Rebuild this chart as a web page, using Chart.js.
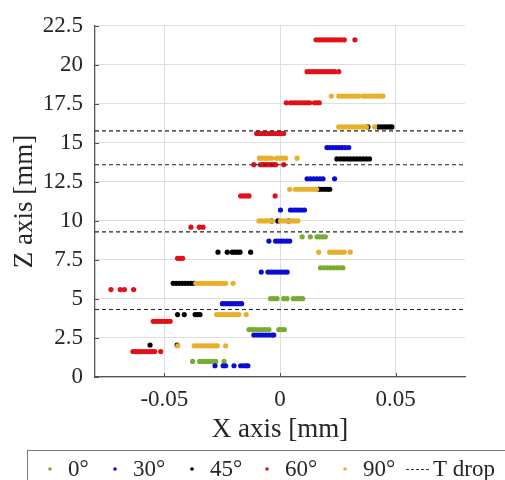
<!DOCTYPE html>
<html lang="en">
<head>
<meta charset="UTF-8">
<title>Z axis vs X axis</title>
<script src="https://cdn.jsdelivr.net/npm/chart.js@4.4.0/dist/chart.umd.min.js"></script>
<style>
  html, body { margin: 0; padding: 0; background: #fff; }
  #wrap { width: 505px; height: 480px; }
</style>
</head>
<body>
<div id="wrap"><canvas id="chart" width="505" height="480"></canvas></div>
<script>
// series names and colours
const angles = ['0°', '30°', '45°', '60°', '90°'];
const colors = ['#77ac30', '#0b0bd6', '#000000', '#e3101a', '#e8b02a'];

// each row: [z, x, x, ...]  (mm)
const deg0 = [
  [8.98, 0.0096, 0.0131, 0.0160, 0.0172, 0.0184, 0.0196],
  [7.0, 0.0175, 0.0189, 0.0203, 0.0217, 0.0231, 0.0245, 0.0259, 0.0272],
  [5.02, -0.0041, -0.0027, -0.0013, 0.0016, 0.0030, 0.0058, 0.0072, 0.0085, 0.0098],
  [3.04, -0.0134, -0.0120, -0.0106, -0.0092, -0.0078, -0.0063, -0.0048, -0.0005, 0.0006, 0.0019],
  [1.0, -0.0378, -0.0347, -0.0333, -0.0319, -0.0305, -0.0291, -0.0278, -0.0242]
];
const deg30 = [
  [14.7, 0.0203, 0.0216, 0.0229, 0.0242, 0.0255, 0.0268, 0.0282, 0.0297],
  [12.7, 0.0117, 0.0131, 0.0145, 0.0159, 0.0173, 0.0186, 0.0236],
  [10.7, 0.0002, 0.0045, 0.0057, 0.0069, 0.0081, 0.0093, 0.0106],
  [8.71, -0.0048, -0.0019, -0.0007, 0.0005, 0.0017, 0.0030, 0.0042],
  [6.72, -0.0081, -0.0052, -0.0040, -0.0028, -0.0016, -0.0004, 0.0008, 0.0020, 0.0031],
  [4.7, -0.0249, -0.0237, -0.0225, -0.0213, -0.0201, -0.0189, -0.0177, -0.0166],
  [2.69, -0.0113, -0.0100, -0.0087, -0.0074, -0.0061, -0.0048, -0.0035, -0.0027],
  [0.72, -0.0281, -0.0246, -0.0235, -0.0199, -0.0170, -0.0158, -0.0146, -0.0139]
];
const deg45 = [
  [16.02, 0.0380, 0.0426, 0.0438, 0.0450, 0.0462, 0.0474, 0.0484],
  [13.97, 0.0246, 0.0262, 0.0276, 0.0290, 0.0304, 0.0318, 0.0332, 0.0346, 0.0360, 0.0373, 0.0387],
  [12.03, 0.0167, 0.0180, 0.0193, 0.0205, 0.0215],
  [10.0, -0.0036, -0.0009, 0.0038],
  [8.0, -0.0268, -0.0228, -0.0206, -0.0195, -0.0184, -0.0173, -0.0127],
  [6.0, -0.0462, -0.0449, -0.0436, -0.0423, -0.0410, -0.0397, -0.0384, -0.0371],
  [4.0, -0.0443, -0.0414, -0.0367, -0.0356, -0.0346],
  [2.05, -0.0562, -0.0445]
];
const deg60 = [
  [21.6, 0.0156, 0.0168, 0.0180, 0.0192, 0.0204, 0.0216, 0.0228, 0.0240, 0.0252, 0.0264, 0.0278, 0.0324],
  [19.56, 0.0117, 0.0129, 0.0141, 0.0153, 0.0165, 0.0177, 0.0189, 0.0201, 0.0213, 0.0225, 0.0237, 0.0254],
  [17.57, 0.0027, 0.0045, 0.0057, 0.0069, 0.0081, 0.0093, 0.0105, 0.0117, 0.0128, 0.0149, 0.0160, 0.0170],
  [15.6, -0.0101, -0.0089, -0.0077, -0.0065, -0.0053, -0.0041, -0.0029, -0.0017, -0.0005, 0.0006, 0.0016],
  [13.6, -0.0113, -0.0084, -0.0073, -0.0062, -0.0051, -0.0040, -0.0030, -0.0019, 0.0016],
  [11.6, -0.0170, -0.0158, -0.0146, -0.0134, -0.0021],
  [9.6, -0.0385, -0.0349, -0.0333],
  [7.6, -0.0443, -0.0432, -0.0421],
  [5.6, -0.0731, -0.0691, -0.0673, -0.0633],
  [3.57, -0.0548, -0.0536, -0.0524, -0.0512, -0.0500, -0.0488, -0.0475],
  [1.63, -0.0636, -0.0624, -0.0612, -0.0600, -0.0588, -0.0576, -0.0564, -0.0552, -0.0542, -0.0516]
];
const deg90 = [
  [18.0, 0.0222, 0.0254, 0.0267, 0.0280, 0.0293, 0.0306, 0.0319, 0.0330, 0.0340, 0.0359, 0.0372, 0.0385, 0.0398, 0.0411, 0.0424, 0.0435, 0.0445],
  [16.02, 0.0254, 0.0266, 0.0278, 0.0290, 0.0302, 0.0314, 0.0326, 0.0338, 0.0350, 0.0362, 0.0374, 0.0409],
  [14.02, -0.0089, -0.0078, -0.0063, -0.0052, -0.0037, -0.0015, -0.0003, 0.0010, 0.0024, 0.0074],
  [12.03, 0.0042, 0.0067, 0.0080, 0.0093, 0.0106, 0.0119, 0.0132, 0.0145, 0.0158],
  [10.0, -0.0091, -0.0079, -0.0067, -0.0055, -0.0043, -0.0034, 0.0002, 0.0015, 0.0028, 0.0041, 0.0054, 0.0066, 0.0077],
  [8.0, 0.0167, 0.0215, 0.0228, 0.0241, 0.0254, 0.0266, 0.0278, 0.0304],
  [6.0, -0.0364, -0.0351, -0.0338, -0.0325, -0.0312, -0.0299, -0.0286, -0.0273, -0.0260, -0.0248, -0.0235, -0.0203],
  [4.0, -0.0274, -0.0262, -0.0250, -0.0238, -0.0226, -0.0214, -0.0202, -0.0190, -0.0178, -0.0146],
  [2.0, -0.0442, -0.0371, -0.0358, -0.0345, -0.0332, -0.0319, -0.0306, -0.0293, -0.0281, -0.0271, -0.0235]
];
const series = [deg0, deg30, deg45, deg60, deg90];

// temperature drop heights (mm)
const tDrop = [15.77, 13.6, 9.3, 4.32];

// axes
const xRange = [-0.08, 0.08];
const xTicks = [-0.05, 0, 0.05];
const xTickLabels = ['-0.05', '0', '0.05'];
const yTicks = [0, 2.5, 5, 7.5, 10, 12.5, 15, 17.5, 20, 22.5];
const yTickLabels = ['0', '2.5', '5', '7.5', '10', '12.5', '15', '17.5', '20', '22.5'];

const serif = "'Liberation Serif', 'Times New Roman', serif";
const textColor = '#262626';

const toPoints = rows => rows.flatMap(([z, ...xs]) => xs.map(x => ({ x: x, y: z })));

const datasets = [];
series.forEach((rows, i) => {
  datasets.push({
    type: 'scatter',
    label: angles[i],
    data: toPoints(rows),
    backgroundColor: colors[i],
    borderWidth: 0,
    pointRadius: 2.6,
    pointHoverRadius: 2.6,
    order: 5 - i
  });
});
tDrop.forEach(z => {
  datasets.push({
    type: 'line',
    label: 'T drop',
    data: [{ x: xRange[0], y: z }, { x: xRange[1], y: z }],
    borderColor: '#222',
    borderWidth: 1.1,
    borderDash: [4, 3],
    pointRadius: 0,
    order: 0
  });
});

// inward tick marks + boxed legend under the plot
const extras = {
  id: 'extras',
  afterDraw(chart) {
    const { ctx, chartArea: a, scales: { x, y } } = chart;
    ctx.save();
    ctx.strokeStyle = '#555';
    ctx.lineWidth = 1;
    ctx.beginPath();
    yTicks.forEach(v => {
      const py = Math.round(y.getPixelForValue(v)) + 0.5;
      ctx.moveTo(a.left, py); ctx.lineTo(a.left + 4, py);
    });
    xTicks.forEach(v => {
      const px = Math.round(x.getPixelForValue(v)) + 0.5;
      ctx.moveTo(px, a.bottom); ctx.lineTo(px, a.bottom - 4);
    });
    ctx.stroke();

    // legend
    ctx.strokeStyle = '#777';
    ctx.strokeRect(27.5, 450.5, 520, 60);
    ctx.font = '23px ' + serif;
    ctx.fillStyle = textColor;
    ctx.textBaseline = 'alphabetic';
    const dotX = [50, 115, 192, 267, 345];
    const ly = 469;
    angles.forEach((name, i) => {
      ctx.fillStyle = colors[i];
      ctx.beginPath();
      ctx.arc(dotX[i], ly, 1.8, 0, Math.PI * 2);
      ctx.fill();
      ctx.fillStyle = textColor;
      ctx.fillText(name, dotX[i] + 18, 476);
    });
    ctx.strokeStyle = '#333';
    ctx.lineWidth = 1;
    ctx.setLineDash([3, 2]);
    ctx.beginPath();
    ctx.moveTo(406, ly + 0.5); ctx.lineTo(430, ly + 0.5);
    ctx.stroke();
    ctx.setLineDash([]);
    ctx.fillText('T drop', 433, 476);
    ctx.restore();
  }
};

new Chart(document.getElementById('chart'), {
  type: 'scatter',
  data: { datasets: datasets },
  options: {
    responsive: false,
    animation: false,
    devicePixelRatio: 1,
    layout: { padding: { left: 9, right: 40, top: 23.5, bottom: 34 } },
    plugins: { legend: { display: false }, tooltip: { enabled: false } },
    scales: {
      x: {
        type: 'linear',
        min: xRange[0],
        max: xRange[1],
        afterBuildTicks: s => { s.ticks = xTicks.map(v => ({ value: v })); },
        afterFit: s => { s.height = 69; },
        ticks: {
          padding: 9,
          color: textColor,
          font: { family: serif, size: 23 },
          callback: (v, i) => xTickLabels[i]
        },
        grid: { color: '#dedede', lineWidth: 1, drawTicks: false },
        border: { color: '#555', width: 1.3 },
        title: {
          display: true,
          text: 'X axis [mm]',
          color: textColor,
          font: { family: serif, size: 27 },
          padding: 0
        }
      },
      y: {
        type: 'linear',
        min: 0,
        max: 22.5,
        afterBuildTicks: s => { s.ticks = yTicks.map(v => ({ value: v })); },
        afterFit: s => { s.width = 86; },
        ticks: {
          padding: 12,
          color: textColor,
          font: { family: serif, size: 23 },
          callback: (v, i) => yTickLabels[i]
        },
        grid: { color: '#dedede', lineWidth: 1, drawTicks: false },
        border: { color: '#555', width: 1.3 },
        title: {
          display: true,
          text: 'Z axis [mm]',
          color: textColor,
          font: { family: serif, size: 27 },
          padding: 0
        }
      }
    }
  },
  plugins: [extras]
});
</script>
</body>
</html>
